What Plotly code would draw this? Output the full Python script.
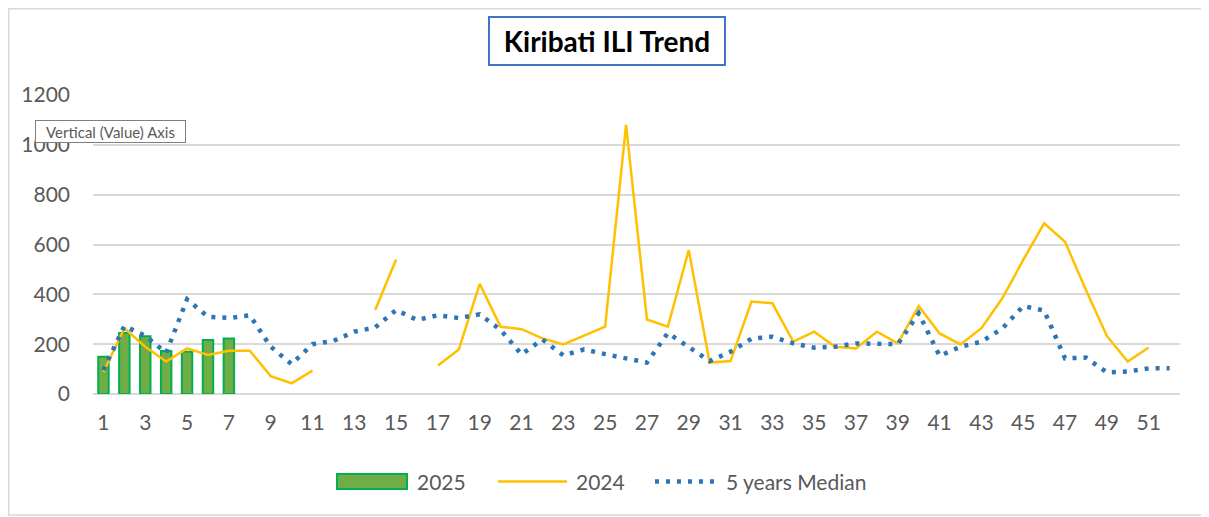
import plotly.graph_objects as go

weeks = list(range(1, 53))
tick_labels = [str(w) for w in range(1, 53, 2)]

cases_2025 = [150, 245, 232, 173, 170, 217, 223]
cases_2024 = [88, 264, 190, 130, 183, 157, 174, 174, 72, 43, 94, None, None, 337, 540, None,
              114, 179, 442, 270, 260, 223, 199, 233, 270, 1080, 299, 270, 578, 126,
              132, 371, 364, 210, 250, 190, 183, 250, 203, 353, 243, 199, 264, 384,
              538, 685, 611, 417, 233, 130, 187, None]
median_5y = [96, 273, 233, 165, 380, 310, 305, 316, 190, 120, 200, 213, 250, 267, 337, 297,
             316, 305, 320, 257, 159, 219, 155, 179, 160, 143, 126, 245, 190, 132,
             170, 222, 230, 203, 186, 190, 203, 200, 200, 324, 153, 190, 210, 263,
             353, 335, 143, 146, 87, 90, 103, 103]

FONT = "Lato"
GRAY = "#595959"
GREEN_FILL = "#70AD47"
GREEN_LINE = "#00B050"
YELLOW = "#FFC000"
BLUE = "#2E75B6"
MEDIAN_DASH = "4px,7px"

fig = go.Figure()
fig.add_trace(go.Bar(
    x=weeks[:len(cases_2025)], y=cases_2025, name="2025",
    marker=dict(color=GREEN_FILL, line=dict(color=GREEN_LINE, width=2)),
    width=0.5,
))
fig.add_trace(go.Scatter(
    x=weeks, y=cases_2024, name="2024", mode="lines",
    line=dict(color=YELLOW, width=2.5), connectgaps=False,
))
fig.add_trace(go.Scatter(
    x=weeks, y=median_5y, name="5 years Median", mode="lines",
    line=dict(color=BLUE, width=4.5, dash=MEDIAN_DASH),
))

fig.update_layout(
    width=1201, height=509,
    margin=dict(l=85, r=29, t=87, b=123),
    paper_bgcolor="white", plot_bgcolor="white",
    font=dict(family=FONT, color=GRAY, size=21),
    showlegend=False,
    xaxis=dict(range=[0.5, 52.5], tickmode="array", tickvals=list(range(1, 53, 2)),
               ticktext=tick_labels, showgrid=False, zeroline=False, showline=False,
               ticks="", tickfont=dict(size=21, color=GRAY), ticklabelstandoff=14),
    yaxis=dict(range=[0, 1200], tickvals=[0, 200, 400, 600, 800, 1000, 1200],
               showgrid=True, gridcolor="#D9D9D9", gridwidth=1.5, zeroline=True,
               zerolinecolor="#D9D9D9", zerolinewidth=1.5, showline=False, ticks="",
               tickfont=dict(size=21, color=GRAY), ticklabelstandoff=22),
)

# title box
fig.add_annotation(
    xref="paper", yref="paper", x=0.4733, y=1.179, xanchor="center", yanchor="middle",
    text="<b>Kiribati ILI Trend</b>", showarrow=False,
    font=dict(family=FONT, size=28, color="black"),
    width=222, height=34,
    bordercolor="#4472C4", borderwidth=2, borderpad=6, bgcolor="white",
)
# tooltip
fig.add_annotation(
    xref="paper", yref="paper", x=-0.0534, y=0.878, xanchor="left", yanchor="middle",
    text="Vertical (Value) Axis", showarrow=False,
    font=dict(family=FONT, size=15, color=GRAY),
    width=145, height=17, align="center",
    bordercolor="#7F7F7F", borderwidth=1, borderpad=2, bgcolor="white",
)

# custom legend
LEG_Y = -0.2926
fig.add_shape(type="rect", xref="paper", yref="paper",
              x0=0.2245, x1=0.2889, y0=-0.3177, y1=-0.2676,
              fillcolor=GREEN_FILL, line=dict(color=GREEN_LINE, width=2))
fig.add_shape(type="line", xref="paper", yref="paper",
              x0=0.3726, x1=0.4361, y0=LEG_Y, y1=LEG_Y,
              line=dict(color=YELLOW, width=2.5))
fig.add_shape(type="line", xref="paper", yref="paper",
              x0=0.5170, x1=0.5750, y0=LEG_Y, y1=LEG_Y,
              line=dict(color=BLUE, width=4.5, dash=MEDIAN_DASH))
for xpos, label in [(0.2971, "2025"), (0.4434, "2024"), (0.5814, "5 years Median")]:
    fig.add_annotation(xref="paper", yref="paper", x=xpos, y=LEG_Y,
                       xanchor="left", yanchor="middle", text=label, showarrow=False,
                       font=dict(family=FONT, size=21, color=GRAY), borderpad=0)

# chart frame
fig.add_shape(type="rect", xref="paper", yref="paper",
              x0=-0.0775, x1=1.0248, y0=-0.4047, y1=1.2884,
              line=dict(color="#D9D9D9", width=1.5), layer="below")

fig.write_html("out.html")
